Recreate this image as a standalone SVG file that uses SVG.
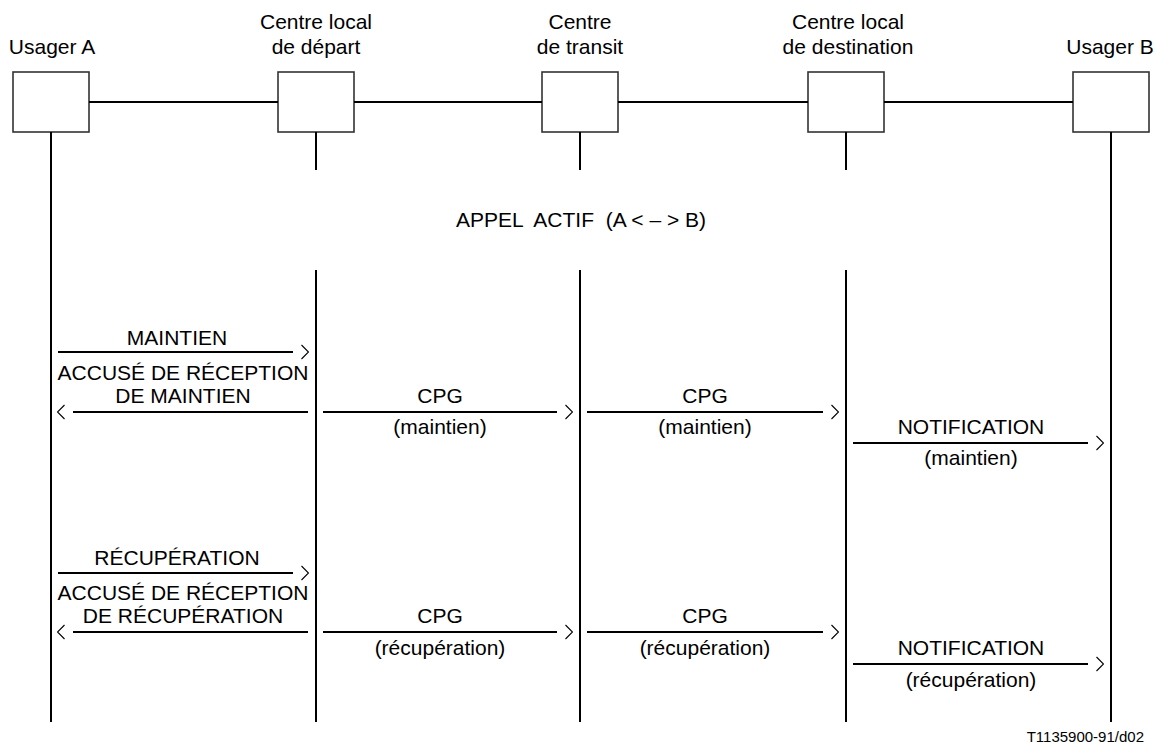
<svg xmlns="http://www.w3.org/2000/svg" width="1157" height="749" viewBox="0 0 1157 749">
<style>
text{font-family:"Liberation Sans",Arial,sans-serif;font-size:21px;fill:#000;text-anchor:middle}
.box{fill:#fff;stroke:#333;stroke-width:1.6}
.ln{stroke:#000;stroke-width:2;fill:none}
.ar{stroke:#000;stroke-width:2;fill:none;marker-end:url(#chev)}
.foot{font-size:15px;text-anchor:end}
</style>
<defs>
<marker id="chev" markerUnits="userSpaceOnUse" markerWidth="8" markerHeight="16" viewBox="0 0 8 16" refX="-8" refY="8" orient="auto">
<path d="M0.5,1 L7.5,8 L0.5,15" fill="none" stroke="#000" stroke-width="1.1"/>
</marker>
</defs>
<rect width="1157" height="749" fill="#fff"/>

<g id="usagerA">
<text x="52" y="54">Usager A</text>
<rect class="box" x="13" y="72" width="76" height="60"/>
</g>
<g id="centreDepart">
<text x="316" y="29">Centre local</text>
<text x="316" y="54">de départ</text>
<rect class="box" x="278" y="72" width="76" height="60"/>
</g>
<g id="centreTransit">
<text x="580" y="29">Centre</text>
<text x="580" y="54">de transit</text>
<rect class="box" x="542" y="72" width="76" height="60"/>
</g>
<g id="centreDestination">
<text x="848" y="29">Centre local</text>
<text x="848" y="54">de destination</text>
<rect class="box" x="808" y="72" width="76" height="60"/>
</g>
<g id="usagerB">
<text x="1110" y="54">Usager B</text>
<rect class="box" x="1073" y="72" width="76" height="60"/>
</g>

<g id="connectors">
<line class="ln" x1="89" y1="102" x2="278" y2="102"/>
<line class="ln" x1="354" y1="102" x2="542" y2="102"/>
<line class="ln" x1="618" y1="102" x2="808" y2="102"/>
<line class="ln" x1="884" y1="102" x2="1073" y2="102"/>
<line class="ln" x1="51" y1="132" x2="51" y2="722"/>
<line class="ln" x1="1111" y1="132" x2="1111" y2="722"/>
<line class="ln" x1="316" y1="132" x2="316" y2="170"/>
<line class="ln" x1="580" y1="132" x2="580" y2="170"/>
<line class="ln" x1="846" y1="132" x2="846" y2="170"/>
<line class="ln" x1="316" y1="270" x2="316" y2="722"/>
<line class="ln" x1="580" y1="270" x2="580" y2="722"/>
<line class="ln" x1="846" y1="270" x2="846" y2="722"/>

<line class="ar" x1="58" y1="352" x2="293" y2="352"/>
<line class="ar" x1="308" y1="412" x2="73" y2="412"/>
<line class="ar" x1="323" y1="412" x2="557" y2="412"/>
<line class="ar" x1="587" y1="412" x2="823" y2="412"/>
<line class="ar" x1="853" y1="443" x2="1088" y2="443"/>

<line class="ar" x1="58" y1="573" x2="293" y2="573"/>
<line class="ar" x1="308" y1="632" x2="73" y2="632"/>
<line class="ar" x1="323" y1="632" x2="557" y2="632"/>
<line class="ar" x1="587" y1="632" x2="823" y2="632"/>
<line class="ar" x1="853" y1="664" x2="1088" y2="664"/>
</g>

<g id="labels">
<text x="581" y="227" xml:space="preserve">APPEL  ACTIF  (A &lt; – &gt; B)</text>

<text x="177" y="345">MAINTIEN</text>
<text x="183" y="380">ACCUSÉ DE RÉCEPTION</text>
<text x="183" y="403">DE MAINTIEN</text>
<text x="440" y="403">CPG</text>
<text x="440" y="434">(maintien)</text>
<text x="705" y="403">CPG</text>
<text x="705" y="434">(maintien)</text>
<text x="971" y="434">NOTIFICATION</text>
<text x="971" y="465">(maintien)</text>

<text x="177" y="565">RÉCUPÉRATION</text>
<text x="183" y="600">ACCUSÉ DE RÉCEPTION</text>
<text x="183" y="623">DE RÉCUPÉRATION</text>
<text x="440" y="623">CPG</text>
<text x="440" y="655">(récupération)</text>
<text x="705" y="623">CPG</text>
<text x="705" y="655">(récupération)</text>
<text x="971" y="655">NOTIFICATION</text>
<text x="971" y="687">(récupération)</text>

<text class="foot" x="1144" y="742">T1135900-91/d02</text>
</g>
</svg>
